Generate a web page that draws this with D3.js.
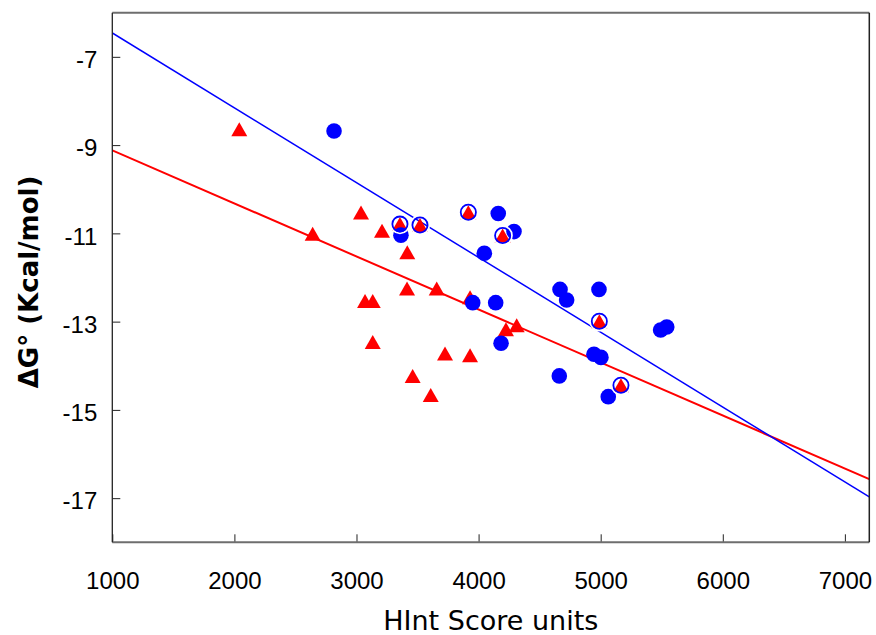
<!DOCTYPE html>
<meta charset="utf-8">
<title>HInt score vs dG</title>
<body>
<script src="https://cdn.jsdelivr.net/npm/d3@7"></script>
<style>
html, body {
    margin: 0;
    background: #fff;
}
svg {
    display: block;
}
.tick text {
    font-family: "Liberation Sans", Arial, sans-serif;
    font-size: 24px;
    fill: #000;
}
</style>
<script>
// blue circles (filled)
var circleX = [2816, 3364, 4161, 4290, 4047, 3952, 4140, 4184, 4667, 4721, 4661, 4986, 4945, 5002, 5062, 5491, 5541];
var circleY = [-8.68, -11.04, -10.55, -10.96, -11.45, -12.57, -12.57, -13.49, -12.27, -12.51, -14.23, -12.27, -13.74, -13.81, -14.70, -13.19, -13.12];

// blue open circles (sit on top of a triangle)
var ringX = [3356, 3520, 3916, 4197, 4989, 5166];
var ringY = [-10.79, -10.81, -10.52, -11.05, -12.99, -14.44];

// red triangles
var triX = [2040, 3037, 2641, 3209, 3416, 3414, 3657, 3070, 3133, 3133, 3725, 3460, 3608, 3930, 4224, 4312, 3930,
            3356, 3520, 3916, 4197, 4989, 5166];
var triY = [-8.64, -10.53, -11.01, -10.94, -11.43, -12.25, -12.25, -12.53, -12.53, -13.46, -13.72, -14.23, -14.66, -12.45, -13.17, -13.08, -13.76,
            -10.79, -10.81, -10.52, -11.05, -12.99, -14.44];

// fitted lines, end points
var blueFitX = [1000, 7200], blueFitY = [-6.46, -16.97];
var redFitX = [1000, 7200], redFitY = [-9.12, -16.57];

var xTicks = [1000, 2000, 3000, 4000, 5000, 6000, 7000];
var yTicks = [-7, -9, -11, -13, -15, -17];

var width = 876,
    height = 635,
    pLeft = 112.3, pRight = 869.3,
    pTop = 12.7, pBottom = 542.3;

var svg = d3.select("body").append("svg")
    .attr("width", width)
    .attr("height", height);

var x = d3.scaleLinear().domain([1000, 7200]).range([pLeft, pRight]);
var y = d3.scaleLinear().domain([-18, -6]).range([pBottom, pTop]);

function zip(a, b) {
    return a.map(function(v, i) { return [v, b[i]]; });
}

svg.append("clipPath").attr("id", "clip")
    .append("rect")
    .attr("x", pLeft).attr("y", pTop)
    .attr("width", pRight - pLeft).attr("height", pBottom - pTop);

var plot = svg.append("g").attr("clip-path", "url(#clip)");

var line = d3.line()
    .x(function(d) { return x(d[0]); })
    .y(function(d) { return y(d[1]); });

plot.append("path")
    .datum(zip(redFitX, redFitY))
    .attr("fill", "none")
    .attr("stroke", "#ff0000")
    .attr("stroke-width", 2)
    .attr("d", line);

plot.append("path")
    .datum(zip(blueFitX, blueFitY))
    .attr("fill", "none")
    .attr("stroke", "#0000ff")
    .attr("stroke-width", 1.5)
    .attr("d", line);

// triangle marker, centred on its box
var tri = "M0,-7L8,7L-8,7Z";

plot.selectAll(".tri")
    .data(zip(triX, triY))
    .enter().append("path")
    .attr("class", "tri")
    .attr("transform", function(d) { return "translate(" + [x(d[0]), y(d[1])] + ")"; })
    .attr("fill", "#ff0000")
    .attr("d", tri);

plot.selectAll(".dot")
    .data(zip(circleX, circleY))
    .enter().append("circle")
    .attr("class", "dot")
    .attr("cx", function(d) { return x(d[0]); })
    .attr("cy", function(d) { return y(d[1]); })
    .attr("r", 7.8)
    .attr("fill", "#0000ff");

var rings = plot.selectAll(".ring")
    .data(zip(ringX, ringY))
    .enter().append("g")
    .attr("class", "ring")
    .attr("transform", function(d) { return "translate(" + [x(d[0]), y(d[1])] + ")"; });

// thin white halo clips the triangle corners, leaving small tips
rings.append("circle")
    .attr("r", 9.3)
    .attr("fill", "none")
    .attr("stroke", "#fff")
    .attr("stroke-width", 1.8);

rings.append("circle")
    .attr("r", 7.6)
    .attr("fill", "none")
    .attr("stroke", "#0000ff")
    .attr("stroke-width", 1.8);

// axes: ticks point inward
var xAxis = svg.append("g")
    .attr("transform", "translate(0," + pBottom + ")")
    .call(d3.axisBottom(x).tickValues(xTicks).tickSizeInner(-8).tickSizeOuter(0).tickPadding(30)
        .tickFormat(d3.format("d")));
xAxis.select(".domain").remove();
xAxis.selectAll(".tick line").attr("stroke", "#222");

var yAxis = svg.append("g")
    .attr("transform", "translate(" + pLeft + ",0)")
    .call(d3.axisLeft(y).tickValues(yTicks).tickSizeInner(-8).tickSizeOuter(0).tickPadding(15)
        .tickFormat(function(d) { return "-" + Math.abs(d); }));
yAxis.select(".domain").remove();
yAxis.selectAll(".tick line").attr("stroke", "#222");
yAxis.selectAll(".tick text").attr("dy", "0.45em");

// frame
svg.append("line").attr("x1", pLeft).attr("x2", pRight).attr("y1", pTop).attr("y2", pTop)
    .attr("stroke", "#6e6e6e").attr("stroke-width", 2);
svg.append("line").attr("x1", pLeft).attr("x2", pRight).attr("y1", pBottom).attr("y2", pBottom)
    .attr("stroke", "#6e6e6e").attr("stroke-width", 2);
svg.append("line").attr("x1", pLeft).attr("x2", pLeft).attr("y1", pTop).attr("y2", pBottom)
    .attr("stroke", "#222").attr("stroke-width", 1.3);
svg.append("line").attr("x1", pRight).attr("x2", pRight).attr("y1", pTop).attr("y2", pBottom)
    .attr("stroke", "#222").attr("stroke-width", 1.5);

svg.append("text")
    .attr("x", (pLeft + pRight) / 2)
    .attr("y", 630)
    .attr("text-anchor", "middle")
    .style("font-family", "'DejaVu Sans', sans-serif")
    .style("font-size", "27px")
    .text("HInt Score units");

svg.append("text")
    .attr("transform", "translate(38,282) rotate(-90)")
    .attr("text-anchor", "middle")
    .style("font-family", "'DejaVu Sans', sans-serif")
    .style("font-size", "26px")
    .style("font-weight", "bold")
    .text("ΔG° (Kcal/mol)");
</script>
